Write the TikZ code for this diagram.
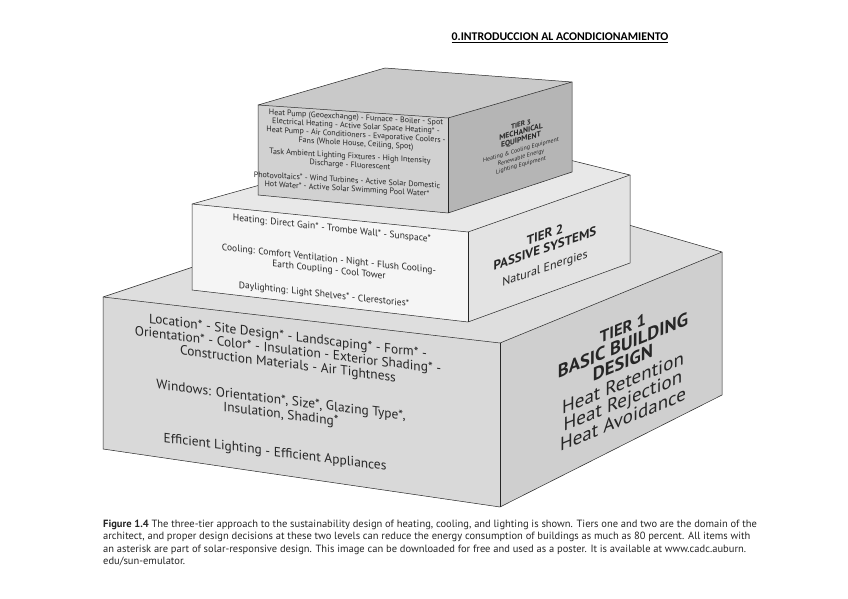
\documentclass[tikz,border=0pt]{standalone}
\usepackage{fontspec}
\setmainfont{PT Sans}
\newfontfamily\hdrfont{Carlito}
\begin{document}
\begin{tikzpicture}[x=1pt,y=-1pt,
  edge/.style={draw=black!85, line width=0.5pt, line join=round},
  txt/.style={align=center, inner sep=0pt, text=black!85},
  captext/.style={anchor=base west, inner sep=0pt, font=\fontsize{10.5}{12}\selectfont, text=black!85}]
\useasboundingbox[fill=white] (0,0) rectangle (848,599);
% ---------- coordinates
\coordinate (a1) at (103,297); \coordinate (b1) at (500,343);
\coordinate (c1) at (722,252); \coordinate (d1) at (463,177);
\coordinate (a1b) at (103,449); \coordinate (b1b) at (500,507);
\coordinate (c1b) at (722,395);
\coordinate (a2) at (192,204); \coordinate (b2) at (468,232);
\coordinate (c2) at (630,175); \coordinate (d2) at (453,131);
\coordinate (a2b) at (192,290); \coordinate (b2b) at (468,322);
\coordinate (c2b) at (630,263);
\coordinate (a3) at (258,105); \coordinate (b3) at (448,118);
\coordinate (c3) at (572,82); \coordinate (d3) at (385,68);
\coordinate (a3b) at (258,195); \coordinate (b3b) at (448,213);
\coordinate (c3b) at (572,172);
% ---------- tier 1
\fill[black!13] (a1) -- (b1) -- (c1) -- (d1) -- cycle;
\fill[black!15] (a1) -- (b1) -- (b1b) -- (a1b) -- cycle;
\fill[black!19] (b1) -- (c1) -- (c1b) -- (b1b) -- cycle;
\draw[edge] (a1) -- (b1) -- (c1) -- (d1) -- cycle;
\draw[edge] (a1) -- (a1b) -- (b1b) -- (c1b) -- (c1);
\draw[edge] (b1) -- (b1b);
% ---------- tier 2
\fill[black!9] (a2) -- (b2) -- (c2) -- (d2) -- cycle;
\fill[black!4] (a2) -- (b2) -- (b2b) -- (a2b) -- cycle;
\fill[black!11] (b2) -- (c2) -- (c2b) -- (b2b) -- cycle;
\draw[edge] (a2) -- (b2) -- (c2) -- (d2) -- cycle;
\draw[edge] (a2) -- (a2b) -- (b2b) -- (c2b) -- (c2);
\draw[edge] (b2) -- (b2b);
% ---------- tier 3
\fill[black!21] (a3) -- (b3) -- (c3) -- (d3) -- cycle;
\fill[black!18] (a3) -- (b3) -- (b3b) -- (a3b) -- cycle;
\fill[black!29] (b3) -- (c3) -- (c3b) -- (b3b) -- cycle;
\draw[edge] (a3) -- (b3) -- (c3) -- (d3) -- cycle;
\draw[edge] (a3) -- (a3b) -- (b3b) -- (c3b) -- (c3);
\draw[edge] (b3) -- (b3b);
% ---------- header
\node[inner sep=0pt, font=\hdrfont\bfseries\fontsize{11.8}{13}\selectfont] (hdr) at (560,38)
  {\underline{0.INTRODUCCION AL ACONDICIONAMIENTO}};
% ---------- tier 1 texts
\node[txt, yslant=-0.125, font=\fontsize{13.4}{14}\selectfont] (t1a) at (288,351)
  {Location* - Site Design* - Landscaping* - Form* -\\
   Orientation* - Color* - Insulation - Exterior Shading* -\\
   Construction Materials - Air Tightness};
\node[txt, yslant=-0.125, font=\fontsize{13.4}{14}\selectfont] (t1b) at (281,408)
  {Windows: Orientation*, Size*, Glazing Type*,\\ Insulation, Shading*};
\node[txt, yslant=-0.125, font=\fontsize{13.4}{14}\selectfont] (t1c) at (275,453)
  {Efficient Lighting - Efficient Appliances};
\node[txt, yslant=0.41, font=\fontsize{19}{17.5}\selectfont] (t1s) at (623,374)
  {\textbf{\fontsize{16.5}{17.5}\selectfont TIER 1}\\ \textbf{\fontsize{18.5}{17.5}\selectfont BASIC BUILDING}\\ \textbf{\fontsize{18.5}{17.5}\selectfont DESIGN}\\[3pt]
   Heat Retention\\ Heat Rejection\\ Heat Avoidance};
% ---------- tier 2 texts
\node[txt, yslant=-0.11, font=\fontsize{9.5}{11}\selectfont] (t2a) at (332,229)
  {Heating: Direct Gain* - Trombe Wall* - Sunspace*};
\node[txt, yslant=-0.11, font=\fontsize{9.5}{11}\selectfont] (t2b) at (329,265)
  {Cooling: Comfort Ventilation - Night - Flush Cooling-\\ Earth Coupling - Cool Tower};
\node[txt, yslant=-0.11, font=\fontsize{9.5}{11}\selectfont] (t2c) at (324,295)
  {Daylighting: Light Shelves* - Clerestories*};
\node[txt, yslant=0.34, font=\fontsize{13}{14}\selectfont] (t2s) at (545,252)
  {\textbf{TIER 2}\\ \textbf{PASSIVE SYSTEMS}\\[5pt] {\fontsize{12}{14}\selectfont Natural Energies}};
% ---------- tier 3 texts
\node[txt, yslant=-0.06, font=\fontsize{8}{8.7}\selectfont] (t3a) at (356,131)
  {Heat Pump (Geoexchange) - Furnace - Boiler - Spot\\
   Electrical Heating - Active Solar Space Heating* -\\
   Heat Pump - Air Conditioners - Evaporative Coolers -\\
   Fans (Whole House, Ceiling, Spot)};
\node[txt, yslant=-0.06, font=\fontsize{8}{8.7}\selectfont] (t3b) at (350,161)
  {Task Ambient Lighting Fixtures - High Intensity\\ Discharge - Fluorescent};
\node[txt, yslant=-0.06, font=\fontsize{8}{8.7}\selectfont] (t3c) at (347,185)
  {Photovoltaics* - Wind Turbines - Active Solar Domestic\\
   Hot Water* - Active Solar Swimming Pool Water*};
\node[txt, yslant=0.29, font=\fontsize{5.9}{7.6}\selectfont] (t3s) at (521,145)
  {\textbf{\fontsize{7}{8.4}\selectfont TIER 3}\\ \textbf{\fontsize{7.6}{8.6}\selectfont MECHANICAL}\\ \textbf{\fontsize{7.6}{8.6}\selectfont EQUIPMENT}\\[2pt]
   Heating \& Cooling Equipment\\ Renewable Energy\\ Lighting Equipment};
% ---------- caption
\node[captext] (cap1) at (103,527) {\textbf{Figure 1.4} The three-tier approach to the sustainability design of heating, cooling, and lighting is shown. Tiers one and two are the domain of the};
\node[captext] (cap2) at (103,539.5) {architect, and proper design decisions at these two levels can reduce the energy consumption of buildings as much as 80 percent. All items with};
\node[captext] (cap3) at (103,552) {an asterisk are part of solar-responsive design. This image can be downloaded for free and used as a poster. It is available at www.cadc.auburn.};
\node[captext] (cap4) at (103,564.5) {edu/sun-emulator.};
\end{tikzpicture}
\end{document}
